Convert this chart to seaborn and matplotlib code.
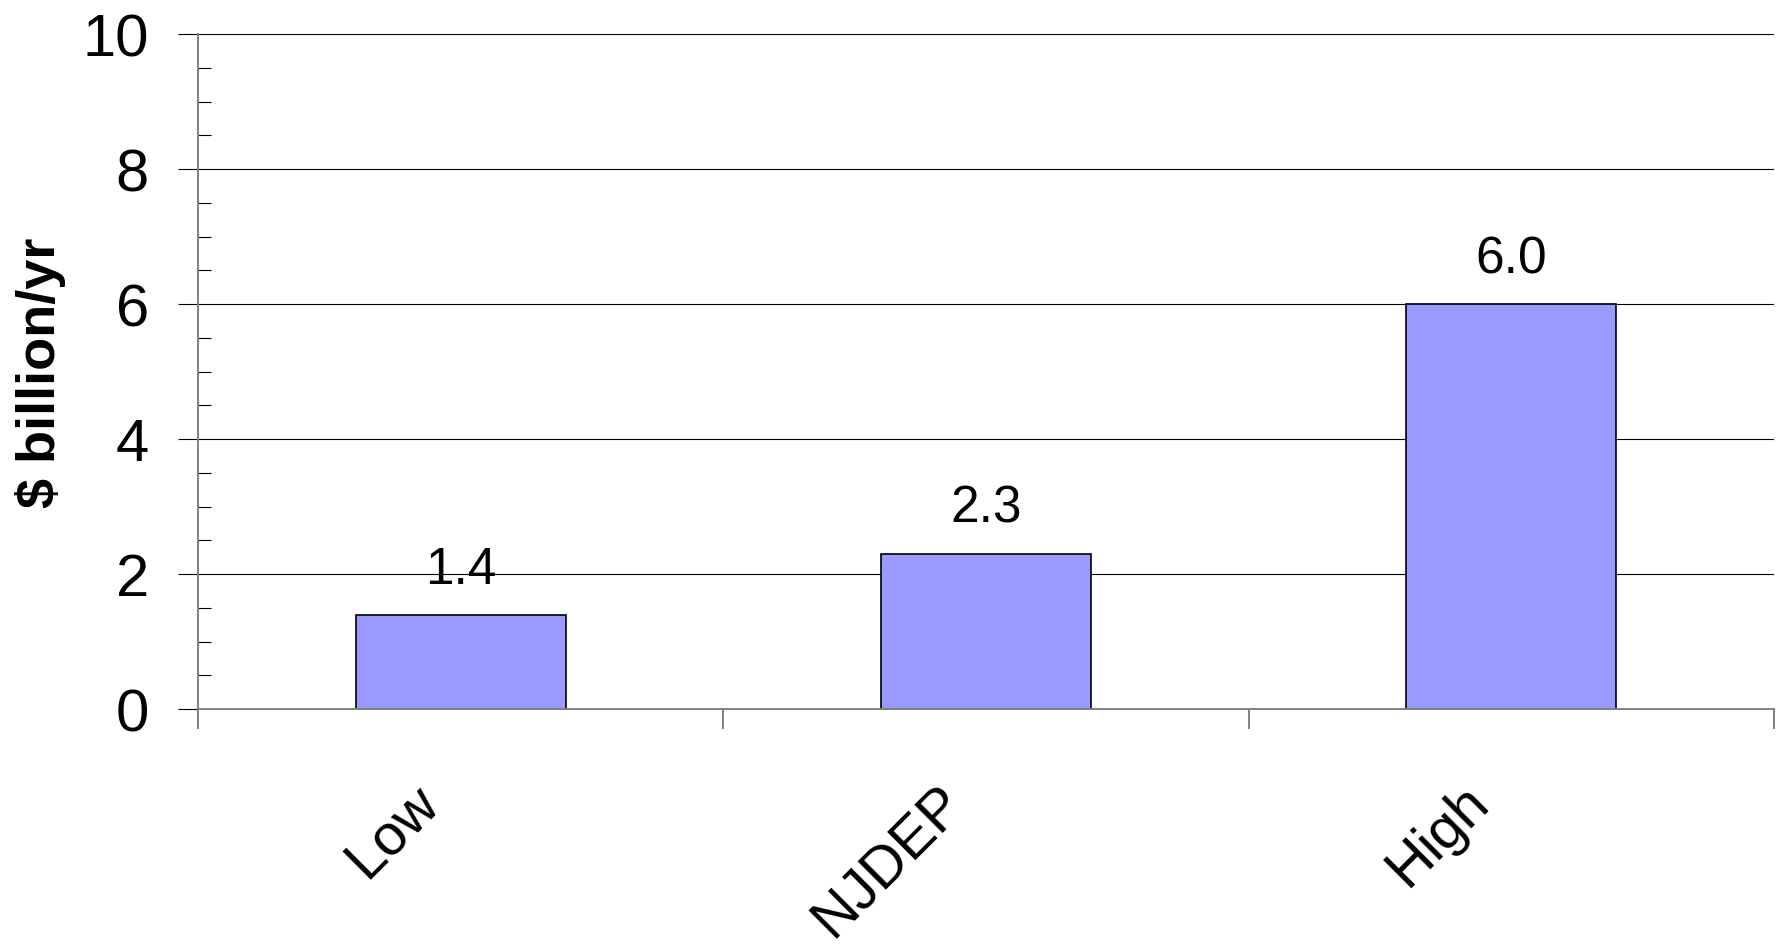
import numpy as np
import pandas as pd
import seaborn as sns
import matplotlib.pyplot as plt
from matplotlib.ticker import MultipleLocator, FixedLocator, NullFormatter
from matplotlib.transforms import ScaledTranslation

# data
scenarios = ["Low", "NJDEP", "High"]
cost = [1.4, 2.3, 6.0]
y_ticks = [0, 2, 4, 6, 8, 10]

df = pd.DataFrame({"scenario": scenarios, "cost": cost})

sns.set_style("white")
plt.rcParams['font.family'] = ['Liberation Sans', 'DejaVu Sans']
plt.rcParams['text.color'] = 'black'
plt.rcParams['axes.labelcolor'] = 'black'
plt.rcParams['xtick.labelcolor'] = 'black'
plt.rcParams['ytick.labelcolor'] = 'black'

fig = plt.figure(figsize=(17.86, 9.45), dpi=100)
ax = fig.add_axes([198/1786, 1 - 710/945, 1576/1786, 675/945])

sns.barplot(data=df, x="scenario", y="cost", color="#9999FF", saturation=1,
            width=0.4, edgecolor="black", linewidth=1.2, ax=ax)

ax.set_ylim(0, 10)
ax.set_xlim(-0.5, 2.5)
ax.set_yticks(y_ticks)
ax.yaxis.set_minor_locator(MultipleLocator(0.5))
ax.grid(axis="y", which="major", color="black", linewidth=0.8)
ax.set_axisbelow(True)

# spines
for s in ["top", "right"]:
    ax.spines[s].set_visible(False)
for s in ["left", "bottom"]:
    ax.spines[s].set_color("#808080")
    ax.spines[s].set_linewidth(1.4)

ax.tick_params(axis="y", which="major", direction="out", length=14.4, width=0.8,
               color="black", labelsize=43, pad=21, left=True, labelcolor="black")
ax.tick_params(axis="y", which="minor", direction="in", length=9.4, width=0.8,
               color="black", left=True)

# x: boundary ticks as major, labels as minor at category centres
ax.xaxis.set_major_locator(FixedLocator([-0.5, 0.5, 1.5, 2.5]))
ax.xaxis.set_major_formatter(NullFormatter())
ax.xaxis.set_minor_locator(FixedLocator(range(len(scenarios))))
ax.set_xticklabels(scenarios, minor=True)
ax.tick_params(axis="x", which="major", direction="out", length=14.4, width=1.4,
               color="#808080", bottom=True)
ax.tick_params(axis="x", which="minor", length=0, labelsize=41.5, pad=0, labelcolor="black")
shift = ScaledTranslation(-0.31, -0.84, fig.dpi_scale_trans)
for lab in ax.get_xticklabels(minor=True):
    lab.set_rotation(45)
    lab.set_ha("right")
    lab.set_va("center")
    lab.set_rotation_mode("anchor")
    lab.set_transform(lab.get_transform() + shift)

ax.set_xlabel("")
ax.set_ylabel("$ billion/yr", fontsize=39, fontweight="bold", labelpad=12, color="black")

ax.bar_label(ax.containers[0], fmt="%.1f", padding=15, fontsize=37, color="black")

plt.savefig("out.png", dpi=100)
